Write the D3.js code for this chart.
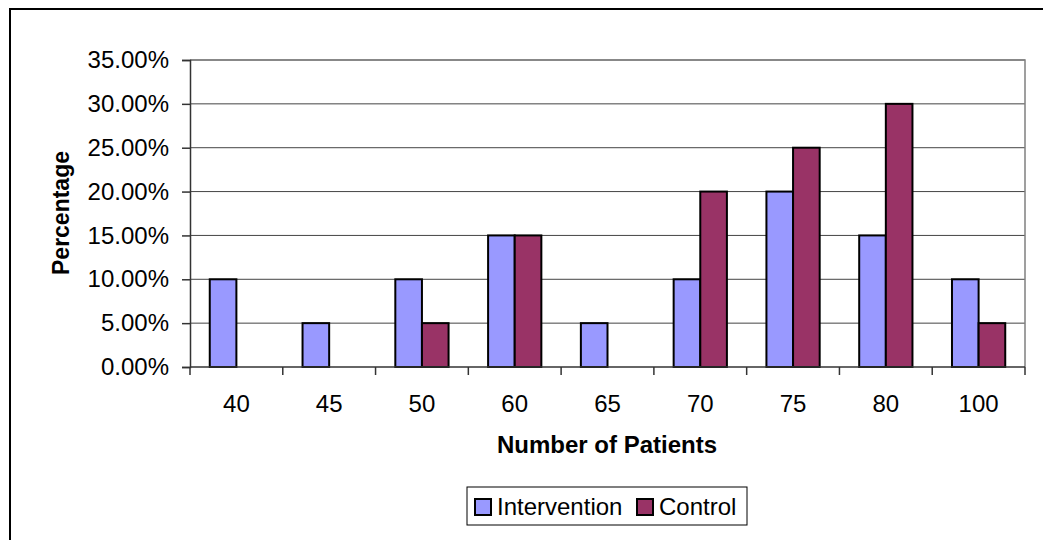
<html>
  <head>
    <title>Number of Patients</title>
    <script src="https://d3js.org/d3.v7.min.js"></script>
  </head>
  <body style="margin:0; background:#fff">
    <svg width="1043" height="540" id="chart"></svg>
  </body>

  <script type="text/javascript">
    // values (percent)
    var categories = ["40", "45", "50", "60", "65", "70", "75", "80", "100"];
    var seriesNames = ["Intervention", "Control"];
    var intervention = [10, 5, 10, 15, 5, 10, 20, 15, 10];
    var control = [0, 0, 5, 15, 0, 20, 25, 30, 5];
    var yTicks = [0, 5, 10, 15, 20, 25, 30, 35];
    var colors = ["#9999FF", "#993366"];

    var svg = d3.select("#chart");
    var font = "'Liberation Sans', Arial, sans-serif";

    // outer chart frame (only left & top edges show)
    svg.append("rect")
        .attr("x", 10).attr("y", 9)
        .attr("width", 1100).attr("height", 600)
        .attr("fill", "none")
        .attr("stroke", "black")
        .attr("stroke-width", 2);

    var plotL = 190, plotR = 1025, plotT = 60, plotB = 367;

    var x = d3.scaleBand().domain(categories).range([plotL, plotR]);
    var y = d3.scaleLinear().domain([0, 35]).range([plotB, plotT]);

    // gridlines
    svg.append("g").selectAll("line")
        .data(yTicks.slice(1))
        .enter().append("line")
        .attr("x1", plotL).attr("x2", plotR)
        .attr("y1", function(d){ return y(d); })
        .attr("y2", function(d){ return y(d); })
        .attr("stroke", "#444")
        .attr("stroke-width", 1);

    // plot border top/right
    svg.append("path")
        .attr("d", "M" + plotL + "," + plotT + "H" + plotR + "V" + plotB)
        .attr("fill", "none")
        .attr("stroke", "#808080")
        .attr("stroke-width", 1.5);

    // bars
    var barW = x.bandwidth() * 0.287;
    var rows = categories.map(function(c, i){
        return { cat: c, values: [intervention[i], control[i]] };
    });
    var groups = svg.append("g").selectAll("g")
        .data(rows)
        .enter().append("g");
    groups.selectAll("rect")
        .data(function(d){
            return d.values.map(function(v, k){ return {cat: d.cat, v: v, k: k}; })
                .filter(function(b){ return b.v > 0; });
        })
        .enter().append("rect")
        .attr("x", function(d){ return x(d.cat) + x.bandwidth() / 2 + (d.k - 1) * barW; })
        .attr("y", function(d){ return y(d.v); })
        .attr("width", barW)
        .attr("height", function(d){ return y(0) - y(d.v); })
        .attr("fill", function(d){ return colors[d.k]; })
        .attr("stroke", "black")
        .attr("stroke-width", 2);

    // y axis
    var yAxis = svg.append("g")
        .attr("transform", "translate(" + plotL + ",0)")
        .call(d3.axisLeft(y).tickValues(yTicks)
            .tickFormat(function(d){ return d.toFixed(2) + "%"; })
            .tickSizeOuter(0).tickSize(8).tickPadding(13));
    yAxis.selectAll("text").attr("font-size", 24).attr("font-family", font).attr("fill", "black");
    yAxis.selectAll("line, path").attr("stroke", "#333").attr("stroke-width", 1.5);

    // x axis with ticks between categories
    var xAxis = svg.append("g")
        .attr("transform", "translate(0," + plotB + ")");
    xAxis.append("line")
        .attr("x1", plotL).attr("x2", plotR)
        .attr("stroke", "#333").attr("stroke-width", 1.5);
    xAxis.selectAll("line.tk")
        .data(categories.concat([null]))
        .enter().append("line").attr("class", "tk")
        .attr("x1", function(d, i){ return plotL + i * x.bandwidth(); })
        .attr("x2", function(d, i){ return plotL + i * x.bandwidth(); })
        .attr("y1", 0).attr("y2", 8)
        .attr("stroke", "#333").attr("stroke-width", 1.5);
    xAxis.selectAll("text")
        .data(categories)
        .enter().append("text")
        .attr("x", function(d){ return x(d) + x.bandwidth() / 2; })
        .attr("y", 45)
        .attr("text-anchor", "middle")
        .attr("font-size", 24).attr("font-family", font)
        .text(function(d){ return d; });

    // axis titles
    svg.append("text")
        .attr("x", 607).attr("y", 453)
        .attr("text-anchor", "middle")
        .attr("font-size", 24).attr("font-weight", "bold").attr("font-family", font)
        .text("Number of Patients");
    svg.append("text")
        .attr("transform", "translate(69,213) rotate(-90)")
        .attr("text-anchor", "middle")
        .attr("font-size", 23).attr("font-weight", "bold").attr("font-family", font)
        .text("Percentage");

    // legend
    var lg = svg.append("g");
    lg.append("rect")
        .attr("x", 467).attr("y", 487).attr("width", 280).attr("height", 38)
        .attr("fill", "white").attr("stroke", "black").attr("stroke-width", 1);
    var legX = [475, 637];
    seriesNames.forEach(function(name, k){
        lg.append("rect")
            .attr("x", legX[k]).attr("y", 499).attr("width", 16).attr("height", 16)
            .attr("fill", colors[k]).attr("stroke", "black").attr("stroke-width", 2);
        lg.append("text")
            .attr("x", legX[k] + 22).attr("y", 515)
            .attr("font-size", 24).attr("font-family", font)
            .text(name);
    });
  </script>
</html>
